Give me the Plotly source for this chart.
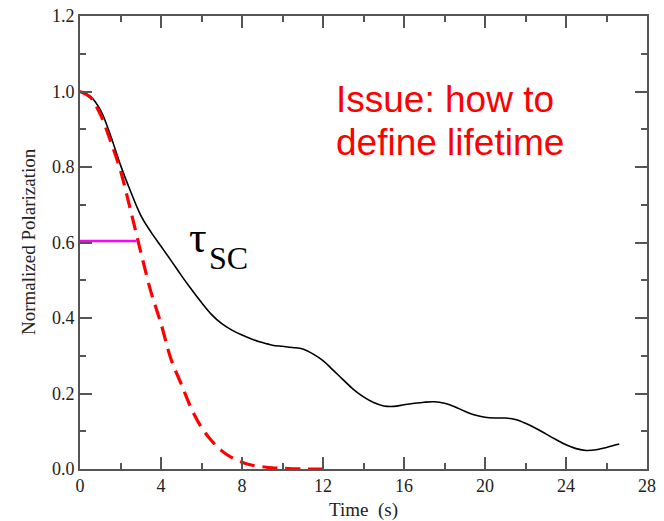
import plotly.graph_objects as go

# Measured (black) normalized polarization vs time
t_meas = [0, 0.5, 1.0, 1.5, 2.0, 2.5, 3.0, 3.5, 4.0, 4.5, 5.0, 5.5, 6.0, 6.5, 7.0, 7.5,
          8.0, 8.5, 9.0, 9.5, 10.0, 10.5, 11.0, 11.5, 12.0, 12.5, 13.0, 13.5, 14.0,
          14.5, 15.0, 15.5, 16.0, 16.5, 17.0, 17.5, 18.0, 18.5, 19.0, 19.5, 20.0,
          20.5, 21.0, 21.5, 22.0, 22.5, 23.0, 23.5, 24.0, 24.5, 25.0, 25.5, 26.0, 26.63]
p_meas = [1.0, 0.988, 0.952, 0.885, 0.805, 0.735, 0.672, 0.628, 0.590, 0.552, 0.513,
          0.476, 0.441, 0.409, 0.385, 0.368, 0.355, 0.344, 0.335, 0.328, 0.325, 0.322,
          0.318, 0.305, 0.287, 0.262, 0.236, 0.211, 0.191, 0.176, 0.167, 0.166, 0.170,
          0.174, 0.177, 0.178, 0.174, 0.165, 0.153, 0.143, 0.137, 0.135, 0.135, 0.131,
          0.121, 0.108, 0.093, 0.078, 0.064, 0.054, 0.049, 0.051, 0.057, 0.066]

# Gaussian-like fit (red dashed)
t_fit = [0, 0.5, 1.0, 1.5, 2.0, 2.5, 3.0, 3.5, 4.0, 4.5, 5.0, 5.5, 6.0, 6.5, 7.0, 7.5,
         8.0, 8.5, 9.0, 9.5, 10.0, 11.0, 12.0]
p_fit = [1.0, 0.985, 0.94, 0.87, 0.79, 0.685, 0.575, 0.47, 0.385, 0.29, 0.225, 0.16,
         0.11, 0.075, 0.048, 0.03, 0.018, 0.01, 0.006, 0.003, 0.002, 0.0, 0.0]

# Lifetime marker (magenta)
t_tau = [0, 2.8]
p_tau = [0.604, 0.604]

x_ticks = [0, 4, 8, 12, 16, 20, 24, 28]
y_ticks = [0.0, 0.2, 0.4, 0.6, 0.8, 1.0, 1.2]

fig = go.Figure()
fig.add_trace(go.Scatter(x=t_meas, y=p_meas, mode="lines", line=dict(color="black", width=1.6, shape="spline"),
                         showlegend=False, hoverinfo="skip"))
fig.add_trace(go.Scatter(x=t_fit, y=p_fit, mode="lines",
                         line=dict(color="#ff0000", width=3.2, dash="15px,8px", shape="spline"),
                         showlegend=False, hoverinfo="skip"))
fig.add_trace(go.Scatter(x=t_tau, y=p_tau, mode="lines", line=dict(color="#ff00ff", width=2.5),
                         showlegend=False, hoverinfo="skip"))

W, H = 664, 521
L, R, T, B = 80, 17, 16, 52
pw, ph = W - L - R, H - T - B


def px(xp):
    return (xp - L) / pw


def py(yp):
    return (H - B - yp) / ph


serif = "Liberation Serif, Times New Roman, serif"
sans = "Liberation Sans, Arial, sans-serif"

axis_common = dict(
    showline=True, linecolor="#555555", linewidth=1.6, mirror="allticks",
    ticks="inside", ticklen=12, tickwidth=1.6, tickcolor="#555555",
    showgrid=False, zeroline=False, automargin=False,
    tickfont=dict(family=serif, size=18, color="#222222"),
)

fig.update_xaxes(range=[0, 28], tickvals=x_ticks, ticktext=[str(v) for v in x_ticks],
                 minor=dict(ticks="inside", ticklen=6, tickwidth=1.6, tickcolor="#555555", dtick=2, showgrid=False),
                 **axis_common)
fig.update_yaxes(range=[0, 1.2], tickvals=y_ticks, ticktext=[f"{v:.1f}" for v in y_ticks],
                 minor=dict(ticks="inside", ticklen=6, tickwidth=1.6, tickcolor="#555555", dtick=0.1, showgrid=False),
                 **axis_common)

annotations = [
    dict(text="Time  (s)", x=px(363), y=py(510), xref="paper", yref="paper", showarrow=False,
         xanchor="center", yanchor="middle", font=dict(family=serif, size=19, color="#222222")),
    dict(text="Normalized Polarization", x=px(28), y=py(242), xref="paper", yref="paper", showarrow=False,
         textangle=-90, xanchor="center", yanchor="middle", font=dict(family=serif, size=19, color="#222222")),
    dict(text="τ", x=px(198), y=py(238), xref="paper", yref="paper", showarrow=False,
         xanchor="center", yanchor="middle", font=dict(family=serif, size=44, color="black")),
    dict(text="SC", x=px(207), y=py(258), xref="paper", yref="paper", showarrow=False,
         xanchor="left", yanchor="middle", font=dict(family=serif, size=32, color="black")),
    dict(text="Issue: how to", x=px(334), y=py(99), xref="paper", yref="paper", showarrow=False,
         xanchor="left", yanchor="middle", font=dict(family=sans, size=37, color="#ff0000")),
    dict(text="define lifetime", x=px(334), y=py(142), xref="paper", yref="paper", showarrow=False,
         xanchor="left", yanchor="middle", font=dict(family=sans, size=37, color="#ff0000")),
]

fig.update_layout(
    width=W, height=H,
    margin=dict(l=L, r=R, t=T, b=B),
    paper_bgcolor="white", plot_bgcolor="white",
    annotations=annotations,
)

fig.write_html("out.html")
